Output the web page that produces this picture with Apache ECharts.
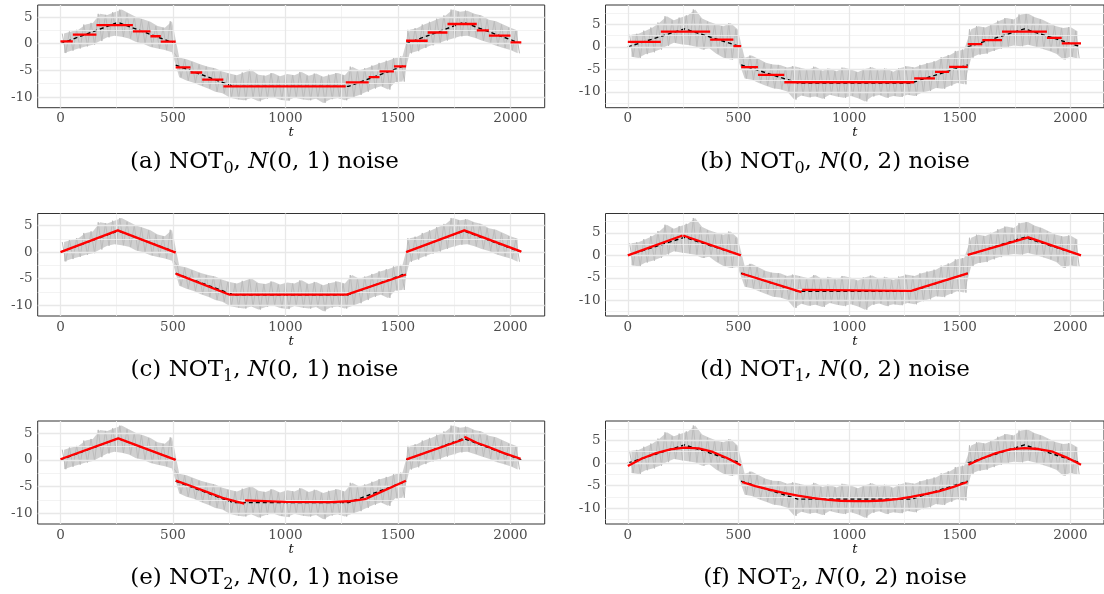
<!DOCTYPE html>
<html><head><meta charset="utf-8">
<script src="https://cdn.jsdelivr.net/npm/echarts@6/dist/echarts.min.js"></script>
<style>html,body{margin:0;padding:0;background:#fff}#c{width:1104px;height:594px}</style>
</head><body><div id="c"></div>
<script>
// ---------- data ----------
const xMajor = [0, 500, 1000, 1500, 2000];
const xMinor = [250, 750, 1250, 1750];
const yMajor = [-10, -5, 0, 5];
const yMinor = [-12.5, -7.5, -2.5, 2.5, 7.5];

// true signal (black dashed), null = break
const truthT = [0, 256, 512, null, 512, 768, 1280, 1536, null, 1536, 1792, 2048];
const truthY = [0, 4, 0, null, -4, -8, -8, -4, null, 0, 4, 0];

// observed series, read as per-bin (32 time units) upper / lower extremes
const binWidth = 32;
const leftHi = [1.9,2.3,2.6,3.6,3.9,5.6,5.4,5.9, 6.4,5.7,5.0,4.6,4.1,3.3,3.0,4.2,
  -2.6,-2.9,-3.4,-3.9,-4.3,-4.6,-5.2,-5.6, -5.9,-5.4,-4.9,-5.8,-6.0,-5.5,-6.1,-5.7,
  -5.9,-5.3,-6.0,-5.6,-6.2,-5.8,-5.5,-5.9, -4.3,-5.0,-4.6,-4.1,-3.6,-3.2,-2.7,-2.4,
  2.6,2.9,3.6,4.1,4.7,5.3,6.4,6.0, 6.2,5.6,5.3,4.5,4.2,3.6,3.0,2.5];
const leftLo = [-1.75,-1.3,-0.9,-0.5,-0.2,0.5,1.2,1.5, 1.3,1.0,0.3,0.0,-0.6,-0.9,-1.2,-1.6,
  -6.3,-6.9,-7.3,-7.9,-8.4,-9.0,-9.3,-10.1, -10.4,-10.6,-10.2,-10.8,-10.3,-10.0,-10.5,-10.7,
  -10.1,-10.4,-10.6,-10.3,-11.1,-10.4,-10.2,-10.6, -10.1,-9.6,-9.0,-8.4,-8.0,-8.6,-7.2,-7.1,
  -1.8,-1.4,-0.8,-0.3,0.1,0.6,1.0,1.4, 1.5,1.1,0.6,0.2,-0.4,-0.8,-1.2,-1.8];
const rightHi = [2.7,2.9,3.6,4.3,5.4,6.8,5.9,6.5, 7.0,8.3,6.3,5.6,5.0,4.6,5.3,3.9,
  -2.4,-1.9,-2.7,-3.5,-3.9,-4.0,-4.6,-4.3, -4.7,-5.1,-4.4,-5.3,-4.8,-5.4,-4.6,-5.0,
  -5.6,-4.9,-4.5,-5.2,-4.8,-5.5,-4.7,-4.3, -4.6,-4.0,-3.6,-3.2,-2.3,-1.8,-0.9,-0.6,
  3.9,4.6,4.3,5.0,5.8,6.4,6.1,7.2, 7.4,6.6,6.1,5.3,4.6,4.2,4.4,3.5];
const rightLo = [-2.2,-2.45,-1.6,-1.2,-0.6,0.2,0.9,0.6, 0.4,0.1,-0.6,-0.3,-1.5,-2.4,-2.8,-2.6,
  -7.0,-7.3,-8.0,-8.6,-9.2,-9.4,-9.9,-11.7, -10.8,-11.2,-11.0,-11.5,-10.6,-11.0,-11.3,-10.9,
  -11.4,-12.1,-11.0,-10.7,-11.3,-10.9,-11.1,-10.6, -10.9,-10.2,-9.8,-9.1,-9.3,-8.6,-8.0,-8.3,
  -2.4,-1.7,-1.5,-0.9,-0.4,0.0,0.3,0.15, 0.5,0.1,-0.4,-0.9,-1.5,-2.8,-2.2,-2.6];

// NOT0 fits: change points and levels
const cpA = [0,55,160,322,400,446,512,578,630,724,1268,1370,1418,1482,1536,1632,1720,1850,1904,2000,2048];
const lvA = [0.45,1.7,3.5,2.3,1.4,0.4,-4.45,-5.4,-6.75,-8.0,-7.25,-6.25,-5.2,-4.25,0.56,2.1,3.7,2.5,1.5,0.25];
const cpB = [0,149,372,477,512,588,707,1294,1388,1452,1536,1602,1691,1894,1961,2048];
const lvB = [1.1,3.4,1.6,0.15,-4.5,-6.2,-7.85,-7.0,-5.55,-4.45,0.6,1.5,3.4,2.0,0.8];

// NOT1 / NOT2 fits (null = break)
const fitCT = [0,255,512,null,512,752,1272,1536,null,1536,1795,2048];
const fitCY = [0,4.1,-0.1,null,-4.05,-8.0,-8.0,-4.2,null,0,4.1,0.1];
const fitDT = [0,247,null,250,511,null,514,785,null,788,1280,1536,null,1536,1810,2048];
const fitDY = [0,4.4,null,4.4,0,null,-4.05,-8.2,null,-7.7,-7.9,-4.0,null,0.1,4.0,0];
const fitET = [0,257,512,null,513,580,650,720,817,null,820,1000,1200,1280,1361,null,1361,1535,null,1538,1790,null,1795,1850,1900,1968,2045];
const fitEY = [0.1,4.0,0,null,-3.9,-4.9,-6.0,-7.1,-8.2,null,-7.6,-7.85,-7.9,-7.75,-7.3,null,-7.2,-3.9,null,0.1,3.8,null,4.3,3.2,2.45,1.3,0.2];
const fitFT = [0,64,128,192,256,320,384,448,511,null,516,576,640,704,768,832,896,960,1024,1088,1152,1216,1280,1344,1408,1472,1534,null,1539,1600,1664,1728,1792,1856,1920,1984,2048];
const fitFY = [-0.65,1.0,2.2,3.0,3.4,3.25,2.45,1.1,-0.5,null,-4.2,-5.1,-5.9,-6.6,-7.2,-7.7,-8.1,-8.35,-8.45,-8.45,-8.3,-8.0,-7.5,-6.9,-6.2,-5.3,-4.2,null,-0.37,1.0,2.2,3.0,3.3,3.1,2.5,1.2,-0.37];

const captionLetters = ['a','b','c','d','e','f'];
const captionSubs = ['0','0','1','1','2','2'];
const captionVar = ['1','2','1','2','1','2'];

// ---------- helpers ----------
function splitSegs(ts, ys) {
  const out = []; let cur = [];
  ts.forEach((t, i) => {
    if (t === null) { if (cur.length) out.push(cur); cur = []; }
    else cur.push([t, ys[i]]);
  });
  if (cur.length) out.push(cur);
  return out;
}
function stepSegs(cp, lv) {
  return lv.map((v, i) => [[cp[i], v], [cp[i + 1], v]]);
}
function zigzag(hi, lo) {
  const d = [];
  hi.forEach((h, i) => {
    d.push([binWidth * i + binWidth * 0.25, h]);
    d.push([binWidth * i + binWidth * 0.75, lo[i]]);
  });
  return d;
}

const FONT = 'DejaVu Serif';
const colLeft = [37.7, 605.5];
const plotW = 507;
const rowTop = [5, 213.5, 421];
const rowH = [102.7, 102.5, 103];
const yRange = [[-12, 7.26], [-13.5, 9.3]];
const xRange = [-101, 2152];

const fits = [
  stepSegs(cpA, lvA), stepSegs(cpB, lvB),
  splitSegs(fitCT, fitCY), splitSegs(fitDT, fitDY),
  splitSegs(fitET, fitEY), splitSegs(fitFT, fitFY)
];
const truthSegs = splitSegs(truthT, truthY);

const grids = [], xAxes = [], yAxes = [], series = [], graphics = [];
for (let p = 0; p < 6; p++) {
  const col = p % 2, row = Math.floor(p / 2);
  const yr = yRange[col];
  grids.push({left: colLeft[col], top: rowTop[row], width: plotW, height: rowH[row],
    show: true, borderColor: '#333333', borderWidth: 1, backgroundColor: '#fff', containLabel: false});
  xAxes.push({type: 'value', gridIndex: p, min: xRange[0], max: xRange[1],
    axisLine: {show: false}, splitLine: {show: false},
    axisTick: {show: true, customValues: xMajor, length: 3, lineStyle: {color: '#333'}},
    axisLabel: {customValues: xMajor, formatter: v => String(v), color: '#4d4d4d', fontFamily: FONT, fontSize: 13.5, margin: 4},
    name: 't', nameLocation: 'middle', nameGap: 15,
    nameTextStyle: {fontFamily: FONT, fontStyle: 'italic', fontSize: 13, color: '#111'}});
  yAxes.push({type: 'value', gridIndex: p, min: yr[0], max: yr[1],
    axisLine: {show: false}, splitLine: {show: false},
    axisTick: {show: true, customValues: yMajor, length: 3, lineStyle: {color: '#333'}},
    axisLabel: {customValues: yMajor, formatter: v => String(v), color: '#4d4d4d', fontFamily: FONT, fontSize: 13.5, margin: 5}});

  const ml = [];
  yMinor.filter(v => v > yr[0] && v < yr[1]).forEach(v => ml.push({yAxis: v, lineStyle: {color: '#f0f0f0', width: 0.8, type: 'solid'}}));
  xMinor.forEach(v => ml.push({xAxis: v, lineStyle: {color: '#f0f0f0', width: 0.8, type: 'solid'}}));
  yMajor.forEach(v => ml.push({yAxis: v, lineStyle: {color: '#e8e8e8', width: 1.3, type: 'solid'}}));
  xMajor.forEach(v => ml.push({xAxis: v, lineStyle: {color: '#e8e8e8', width: 1.3, type: 'solid'}}));
  series.push({type: 'line', xAxisIndex: p, yAxisIndex: p, data: [[0, 0]], showSymbol: false,
    lineStyle: {opacity: 0}, silent: true, z: 1, animation: false,
    markLine: {silent: true, symbol: ['none', 'none'], label: {show: false}, animation: false, data: ml}});

  const hi = col === 0 ? leftHi : rightHi;
  const lo = col === 0 ? leftLo : rightLo;
  // envelope band of the observed series
  series.push({type: 'custom', xAxisIndex: p, yAxisIndex: p, data: [[0, 0]], z: 2, silent: true, animation: false,
    renderItem: (params, api) => {
      const pts = [];
      hi.forEach((h, i) => pts.push(api.coord([binWidth * i + binWidth / 2, h])));
      for (let i = lo.length - 1; i >= 0; i--) pts.push(api.coord([binWidth * i + binWidth / 2, lo[i]]));
      return {type: 'polygon', shape: {points: pts}, style: {fill: 'rgba(190,190,190,0.72)'}};
    }});
  series.push({type: 'line', xAxisIndex: p, yAxisIndex: p, data: zigzag(hi, lo), showSymbol: false,
    lineStyle: {color: '#bcbcbc', width: 1}, z: 3, silent: true, animation: false});

  truthSegs.forEach(seg => series.push({type: 'line', xAxisIndex: p, yAxisIndex: p, data: seg, showSymbol: false,
    lineStyle: {color: '#000', width: 1.4, type: [4, 3]}, z: 4, silent: true, animation: false}));
  fits[p].forEach(seg => series.push({type: 'line', xAxisIndex: p, yAxisIndex: p, data: seg, showSymbol: false,
    lineStyle: {color: '#ff0000', width: 2.3}, z: 5, silent: true, animation: false}));
}

const capX = [264.5, 835];
const capY = [162, 370, 578];
for (let p = 0; p < 6; p++) {
  const col = p % 2, row = Math.floor(p / 2);
  graphics.push({type: 'text', x: capX[col], y: capY[row], silent: true,
    style: {text: '(' + captionLetters[p] + ') NOT{sub|' + captionSubs[p] + '}, {it|N}(0, ' + captionVar[p] + ') noise',
      align: 'center', verticalAlign: 'middle', fontFamily: FONT, fontSize: 23, lineHeight: 30, fill: '#000',
      rich: {sub: {fontFamily: FONT, fontSize: 16, lineHeight: 18, verticalAlign: 'bottom', fill: '#000'},
             it: {fontFamily: FONT, fontSize: 23, lineHeight: 30, fontStyle: 'italic', fill: '#000'}}}});
}

const chart = echarts.init(document.getElementById('c'), null, {renderer: 'canvas'});
chart.setOption({animation: false, backgroundColor: '#fff', grid: grids, xAxis: xAxes, yAxis: yAxes, series: series, graphic: graphics});
</script></body></html>
